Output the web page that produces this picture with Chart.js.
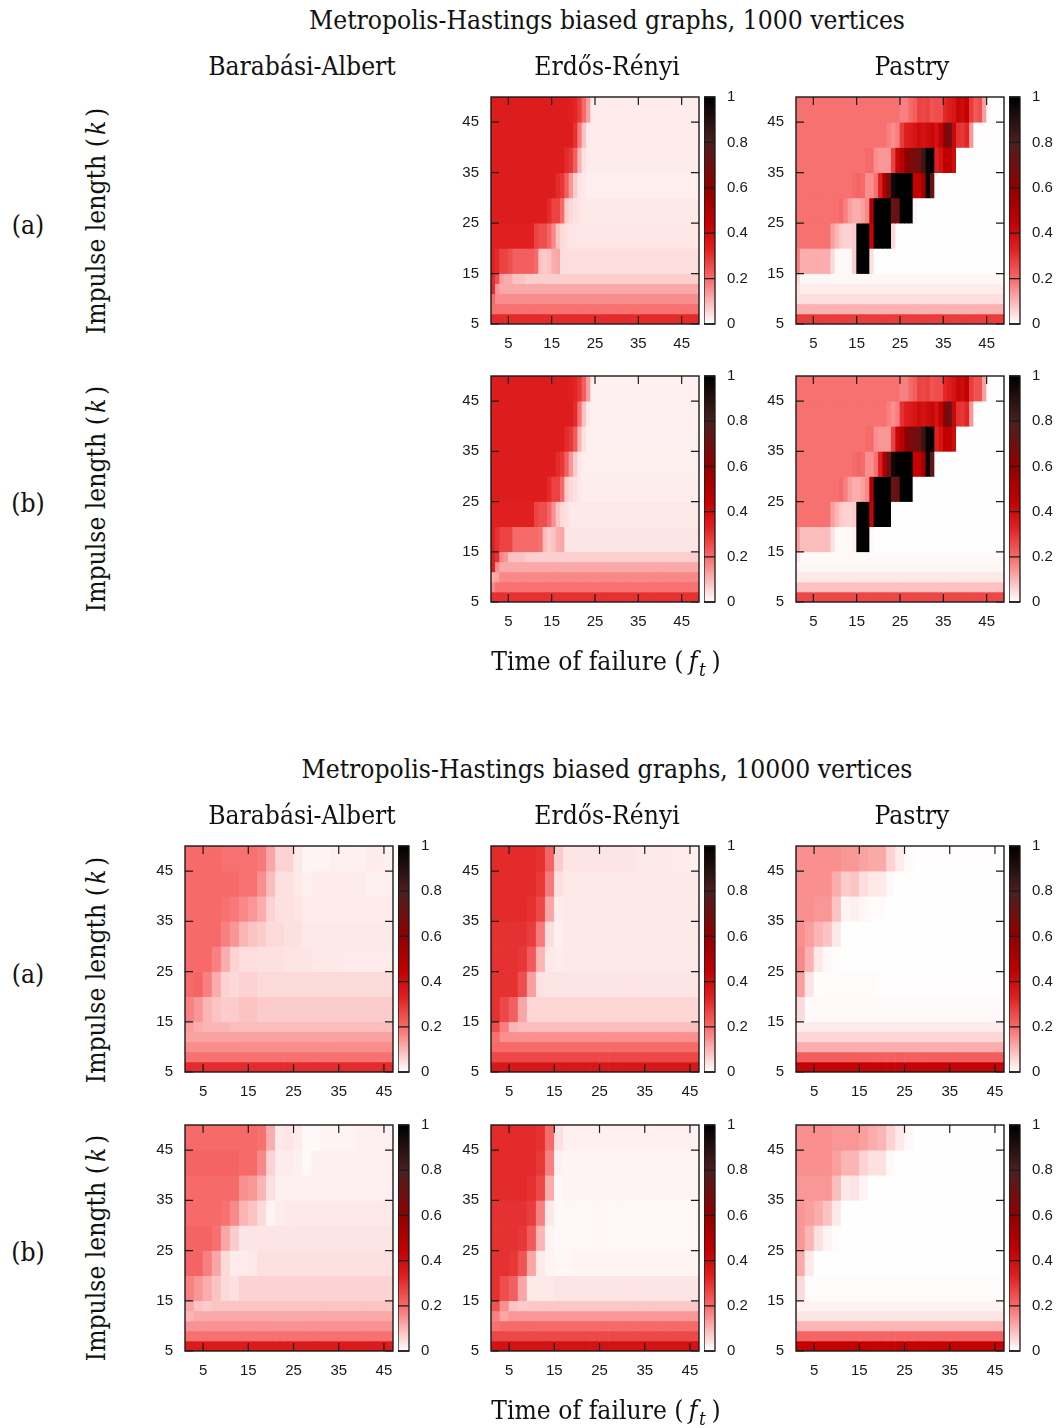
<!DOCTYPE html>
<html><head><meta charset="utf-8">
<style>
html,body{margin:0;padding:0;background:#fff}
#page{position:relative;width:1060px;height:1428px;overflow:hidden;font-family:"DejaVu Serif Condensed","Liberation Serif",serif;color:#111}
#page canvas{position:absolute}
.t{position:absolute;white-space:nowrap;transform:translate(-50%,-50%);font-size:26.2px;line-height:1}
.v{transform:translate(-50%,-50%) rotate(-90deg)}
i{padding:0 .14em 0 .12em}
i.f{padding:0 .2em 0 .2em;letter-spacing:.02em}
sub{font-size:.72em;line-height:0;vertical-align:-.3em;padding-left:.05em}
</style></head><body><div id="page"></div>
<script src="https://cdn.jsdelivr.net/npm/chart.js@4/dist/chart.umd.min.js"></script>
<script>
const xTicks=[5,15,25,35,45];
const yTicks=[5,15,25,35,45];
const barTicks=[0,0.2,0.4,0.6,0.8,1];
const rowEdges=[50,45,40,35,30,25,20,15,13,11,9,7,5];
const paletteStops=[[0,'#ffffff'],[0.2,'#f76a6a'],[0.33,'#e02020'],[0.45,'#c00000'],[0.6,'#900000'],[0.8,'#4a2020'],[1,'#000000']];
const columnNames=['Barabási-Albert','Erdős-Rényi','Pastry'];
const titles=['Metropolis-Hastings biased graphs, 1000 vertices','Metropolis-Hastings biased graphs, 10000 vertices'];
// Rows run top to bottom (k 45-50 first). Each row is value (percent), run length, ...; the last value fills the row.
const er1000a=[
[34,18,33,1,32,1,28,1,20,1,13,1,2.5,1],
[34,19,30,1,18,1,8,1,3,1,2.5,1],
[34,17,31,1,29,1,22,1,10,1,4,1,2.5,1],
[34,15,31,1,29,1,22,1,14,1,7,1,3.5,1,3,1,2.3,1],
[34,13,31,1,27,2,20,1,7,1,5,1,4,1,3.5,1,3,1],
[33,10,27,1,25,2,21,1,16,1,8,1,5,1,4,1,3.3,1],
[33,1,31,1,27,2,25,1,22,5,20,1,8,1,7,1,8,1,11,1,12,1,4.5,1],
[31,1,25,1,13,1,11,2,8,3,6.5,1],
[31,1,14,1,11.5,1],
[20,1,15.5,1],
[19,1],
[31,1]];
const er1000b=[
[34,18,33,1,32,1,29,1,22,1,13,1,2,1],
[34,19,31,1,19,1,8,1,3,1,2,1],
[34,17,31,1,29,1,23,1,10,1,4,1,2,1],
[34,15,31,1,29,1,22,1,14,1,7,1,3,1,2.2,1],
[34,13,31,1,27,2,20,1,7,1,5,1,4,1,3,1,2.4,1],
[33,10,27,1,25,2,21,1,15,1,8,1,5,1,4,1,3,1],
[33,1,30,1,27,3,20,6,19,1,9,1,7,1,8,1,11,1,12,1,3.5,1],
[33,1,30,1,16,1,14,1,8,4,6.5,1],
[33,1,15,1,11.5,1],
[11,1,12,1,16,1],
[16,1,19,1],
[30,1]];
const pastry1000a=[
[19,24,17,2,20,1,22,1,27,1,26,1,27,1,24,1,25,2,32,1,34,1,36,1,42,1,40,1,44,1,28,1,23,1,25,1,13,1,1,1,.3,1],
[19,21,17,1,15,1,17,1,28,1,33,1,35,1,37,1,40,1,38,1,40,1,42,1,38,1,44,1,60,1,72,1,42,1,30,1,29,1,32,1,14,1,.3,1],
[19,16,20,1,20,1,15,1,14,3,27,1,42,1,47,1,60,1,65,1,68,2,85,1,98,1,100,1,33,1,38,1,45,2,40,1,.2,1],
[19,13,20,1,21,1,20,1,15,2,19,1,33,1,50,1,68,1,95,1,100,4,44,2,55,1,98,1,72,1,.2,1],
[19,10,20,1,17,1,13,1,11,2,13,1,16,1,50,1,100,4,72,1,70,1,100,3,1,1,.2,1],
[19,8,13,1,10,1,7,1,6,2,7,1,100,3,43,1,100,4,5,1,.2,1],
[17,1,11,7,5,1,1,4,7,1,100,3,4,1,.2,1],
[5,1,1.2,1],
[4,1,2.5,1],
[4.5,1],
[10.5,1],
[28,1]];
const pastry1000b=[
[19,24,17,2,20,1,22,1,27,1,26,1,27,1,24,1,25,2,32,1,34,1,37,1,42,1,40,1,44,1,28,1,24,1,24,1,13,1,.5,1,.1,1],
[19,21,17,1,15,1,17,1,30,1,33,1,35,1,37,1,40,1,38,1,40,1,42,1,38,1,44,1,62,1,74,1,42,1,30,1,29,1,32,1,14,1,.1,1],
[19,16,20,1,20,1,15,1,14,3,27,1,42,1,47,1,60,1,66,1,68,2,86,1,98,1,100,1,33,1,38,1,45,2,40,1,.1,1],
[19,13,20,1,21,1,20,1,15,2,19,1,33,1,50,1,70,1,95,1,100,4,44,2,55,1,98,1,72,1,.1,1],
[19,10,20,1,17,1,13,1,11,2,13,1,16,1,50,1,100,4,72,1,70,1,100,3,.1,1],
[19,8,13,1,10,1,7,1,6,2,7,1,100,3,43,1,100,4,.5,1,.1,1],
[13,1,9,7,4,1,.8,4,2,1,100,3,1,1,.1,1],
[3,1,.8,1],
[1.5,1,1.2,1],
[3,1],
[8.5,1],
[26,1]];
const ba10000a=[
[20,4,19,4,18,1,12,1,6,2,3,1,1.5,3,2,4,2.5,2,2,1],
[20,6,19,2,15,1,9,1,4,2,3,1,2,1,2.5,6,2,3,1.5,1],
[20,4,19,1,18,1,16,1,14,1,11,1,6,1,4,2,3.5,1,2.5,1],
[20,4,17,1,14,1,10,1,8,1,7,1,5,2,4,2,3,1],
[20,3,17,1,11,1,6,1,4.5,2,4,3,3.5,3,3,3,2.8,1],
[20,1,21,1,17,1,11,1,6,1,5,1,6,2,5,1],
[17,1,14,1,10,1,8,1,7,2,8,2,7,1],
[13,1,11,1,10,3,9,1],
[12.5,1],
[15.5,1],
[19,1],
[31,1]];
const ba10000b=[
[20,8,19,1,11,1,3,1,3.5,1,2.5,1,1,2,1.5,4,2,1],
[21,6,20,2,16,1,6,1,2.5,2,2,1,1,1,2,1],
[20,6,15,1,14,1,10,1,4,1,2,1],
[20,4,19,1,16,1,10,1,8,1,5,1,1.5,1,2.5,1,3,1],
[21,3,19,1,12,1,7,1,3.5,1],
[21,2,17,1,12,1,5,1,2.5,2,3,1,4,1],
[17,1,14,1,11,1,8,1,5,1,4,1,6,1],
[12,1,8,1,7,1,8,1],
[10,1,11.5,1],
[14.5,1],
[19,1],
[35,1]];
const er10000a=[
[31,5,30,1,21,1,7,1,3.5,8,3,4,2.5,2,2,1],
[31,5,29,1,18,1,4,1,3,1],
[31,4,30,1,26,1,12,1,2.5,1,3,1],
[30,4,28,1,18,1,4.5,1,2,1,3,1],
[30,3,29,1,23,1,10,1,3,1,2.5,1,3,1],
[30,3,25,1,13,1,4,1,3.5,1],
[30,1,26,1,22,1,12,1,5.5,1],
[25,1,17,1,10,1,9,1],
[19,1,15,1],
[20,1],
[26,1],
[36,1]];
const er10000b=[
[31,5,30,1,20,1,4,1,2,1],
[31,5,29,1,17,1,2,1,1.5,1],
[31,4,30,1,26,1,11,1,1,1,1.5,1],
[30,4,28,1,17,1,3,1,1,1,1.2,1],
[30,3,29,1,23,1,10,1,1.5,1,1,1,1.2,1],
[30,2,29,1,24,1,12,1,3,1,1.5,1,1.2,2,1.5,1],
[30,1,25,1,22,1,12,1,3,3,3.5,1],
[24,1,15,1,8,1,7,1,7.5,1],
[17,1,12,1,14,1],
[19,1,20,1],
[26,1],
[38,1]];
const pastry10000a=[
[15,5,14,2,12.5,1,11.5,2,6,1,2.5,1,.5,1,.3,1],
[15,4,11,1,7,1,8,1,4.5,1,3,2,1,1,.2,1],
[15,2,14,2,8,1,1.5,1,2,1,1.2,1,.5,2,.2,1],
[15,1,13,1,10,1,8,1,3,1,.2,1],
[16,1,10.5,1,3,1,1,1,.5,1,.2,1],
[13,1,3.5,1,.4,1,.5,6,.3,1],
[5,1,.8,1],
[2.5,1],
[5.5,1],
[11,1],
[22,1],
[43,1]];
const pastry10000b=[
[15,4,14,3,13,1,11,1,10,1,6,1,3,1,1,1,.2,1],
[15,4,13,1,10,2,6,1,4,2,.8,1,.2,1],
[14,4,9,1,3,1,3.5,1,1.5,1,.2,1],
[14,1,13,1,11,1,8,1,3,1,.1,1],
[14,1,10,1,4,1,1.5,1,.5,1,.1,1],
[11.5,1,3,1,.1,1],
[5,1,.6,1],
[1.8,1],
[3.5,1],
[10,1],
[21,1],
[44,1]];

function expandRow(row,n){const out=[];for(let i=0;i<row.length;i+=2)for(let j=0;j<row[i+1];j++)out.push(row[i]);
  while(out.length<n)out.push(row[row.length-2]);return out.slice(0,n);}
function hex(h){return [1,3,5].map(i=>parseInt(h.substr(i,2),16));}
function colorOf(p){const v=p/100;for(let i=1;i<paletteStops.length;i++){const[a,ca]=paletteStops[i-1],[b,cb]=paletteStops[i];
  if(v<=b){const t=(v-a)/(b-a),A=hex(ca),B=hex(cb);return `rgb(${A.map((c,k)=>Math.round(c+(B[k]-c)*t)).join(',')})`;}}return '#000';}

const INK='#1a1a1a';
const framePlugin={id:'frame',afterDatasetsDraw(chart,args,o){
  const {ctx,chartArea:a,scales}=chart;ctx.save();ctx.strokeStyle=INK;ctx.lineWidth=o.tickWidth;ctx.beginPath();
  (scales.x.options.display!==false?scales.x.ticks:[]).forEach(t=>{const p=scales.x.getPixelForValue(t.value);
    ctx.moveTo(p,a.bottom);ctx.lineTo(p,a.bottom-o.len);ctx.moveTo(p,a.top);ctx.lineTo(p,a.top+o.len);});
  scales.y.ticks.forEach(t=>{const p=scales.y.getPixelForValue(t.value);
    ctx.moveTo(a.left,p);ctx.lineTo(a.left+o.len,p);ctx.moveTo(a.right,p);ctx.lineTo(a.right-o.len,p);});
  ctx.stroke();ctx.lineWidth=o.frameWidth;ctx.strokeRect(a.left,a.top,a.right-a.left,a.bottom-a.top);ctx.restore();}};
const page=document.getElementById('page');
function addCanvas(l,t,w,h){const c=document.createElement('canvas');c.style.left=l+'px';c.style.top=t+'px';c.style.width=w+'px';c.style.height=h+'px';c.width=w;c.height=h;page.appendChild(c);return c;}
const font={family:'"Liberation Sans",Arial,sans-serif',size:15};
const PT=21,PB=34,PL=44,PR=14;
const hiddenGrid={display:false,drawTicks:false,offset:false};
function heatmap(rows,left,top,w,h,xMax,cellWidth){
  const nCols=(xMax-1)/cellWidth;
  const datasets=rows.map((row,r)=>{const vals=expandRow(row,nCols);
    return {data:vals.map((v,c)=>({x:1+(c+.5)*cellWidth,y:[rowEdges[r+1],rowEdges[r]]})),backgroundColor:vals.map(colorOf),grouped:false,barPercentage:1,categoryPercentage:1,borderWidth:0};});
  new Chart(addCanvas(left-PL,top-PT,w+PL+PR,h+PT+PB),{type:'bar',data:{datasets},plugins:[framePlugin],options:{
    responsive:false,animation:false,events:[],
    layout:{padding:{right:PR}},
    plugins:{legend:{display:false},tooltip:{enabled:false},frame:{len:8,tickWidth:1.2,frameWidth:1.4}},
    scales:{
      x:{type:'linear',offset:false,min:1,max:xMax,grid:hiddenGrid,border:{display:false},
        afterBuildTicks:s=>{s.ticks=xTicks.map(v=>({value:v}));},afterFit:s=>{s.height=PB;},
        ticks:{autoSkip:false,maxRotation:0,padding:11,color:INK,font,callback:v=>String(v)}},
      y:{type:'linear',min:5,max:50,grid:hiddenGrid,border:{display:false},
        afterBuildTicks:s=>{s.ticks=yTicks.map(v=>({value:v}));},afterFit:s=>{s.width=PL;},
        ticks:{autoSkip:false,padding:12,color:INK,font,callback:v=>String(v)}}
    }}});
}
function colorbar(left,top,w,h){
  new Chart(addCanvas(left,top-PT,w+40,h+PT+PB),{type:'bar',data:{datasets:[{data:[{x:.5,y:[0,1]}],barPercentage:1,categoryPercentage:1,borderWidth:0,
    backgroundColor(ctx){const a=ctx.chart.chartArea;if(!a)return '#fff';const s=ctx.chart.scales.y;
      const g=ctx.chart.ctx.createLinearGradient(0,s.getPixelForValue(0),0,s.getPixelForValue(1));paletteStops.forEach(([v,c])=>g.addColorStop(v,c));return g;}}]},
    plugins:[framePlugin],options:{responsive:false,animation:false,events:[],
    layout:{padding:{bottom:PB}},
    plugins:{legend:{display:false},tooltip:{enabled:false},frame:{len:w/2,tickWidth:1.3,frameWidth:1.3}},
    scales:{
      x:{type:'linear',display:false,min:0,max:1,offset:false,grid:hiddenGrid},
      y:{type:'linear',position:'right',min:0,max:1,grid:hiddenGrid,border:{display:false},
        afterBuildTicks:s=>{s.ticks=barTicks.map(v=>({value:v}));},afterFit:s=>{s.width=40;},
        ticks:{autoSkip:false,padding:12,color:INK,font,callback:v=>String(v)}}
    }}});
}
const colLefts=[185,491,796],barLefts=[398,704,1009];
const rowTops=[[97,227],[376,226],[846,226],[1125,226]];
const PW=208,CW=11;
const panels=[
 [null,er1000a,pastry1000a],[null,er1000b,pastry1000b],
 [ba10000a,er10000a,pastry10000a],[ba10000b,er10000b,pastry10000b]];
panels.forEach((line,r)=>line.forEach((rows,c)=>{
  if(!rows)return;const [top,h]=rowTops[r];
  heatmap(rows,colLefts[c],top,PW,h,r<2?49:47,r<2?1:2);
  colorbar(barLefts[c],top,CW,h);
}));
function text(html,x,y,vertical){const d=document.createElement('div');d.className='t'+(vertical?' v':'');d.innerHTML=html;d.style.left=x+'px';d.style.top=y+'px';page.appendChild(d);}
[[20,66,661,titles[0]],[769,815,1410,titles[1]]].forEach(([ty,hy,xy,title])=>{
  text(title,607,ty);
  columnNames.forEach((n,i)=>text(n,[302,607,912][i],hy));
  text('Time of failure (<i class="f">f<sub>t</sub></i>)',606,xy);
});
[221,499,970,1248].forEach(y=>text('Impulse length (<i>k</i>)',96,y,true));
[[225,'(a)'],[503,'(b)'],[974,'(a)'],[1252,'(b)']].forEach(([y,s])=>text(s,28,y));
</script></body></html>
